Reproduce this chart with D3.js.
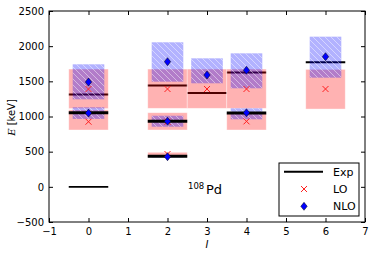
<!DOCTYPE html>
<html>
<head>
<meta charset="utf-8">
<script src="https://cdn.jsdelivr.net/npm/d3@7"></script>
<style>
  html, body { margin: 0; padding: 0; background: #fff; }
  svg { display: block; }
  text { font-family: "DejaVu Sans", sans-serif; }
</style>
</head>
<body>
<svg id="chart" width="374" height="256"></svg>
<script>
// ---- data ----
const groundSpin = [0];
const groundExp = [0];
const spins = [0, 0, 2, 2, 2, 3, 4, 4, 6];
const expE  = [1053, 1314, 434, 931, 1441, 1335, 1048, 1625, 1771];
const loE   = [926, 1391, 466, 926, 1391, 1391, 931, 1391, 1391];
const nloE  = [1049, 1490, 428, 931, 1779, 1590, 1054, 1657, 1850];
const loLow  = [808, 1112, 424, 808, 1116, 1116, 808, 1116, 1106];
const loHigh = [1095, 1675, 491, 1054, 1675, 1675, 1045, 1675, 1670];
const nloLow  = [966, 1244, 418, 855, 1495, 1472, 960, 1401, 1552];
const nloHigh = [1131, 1742, 440, 1011, 2055, 1827, 1116, 1898, 2135];
const xTicks = [-1, 0, 1, 2, 3, 4, 5, 6, 7];
const yTicks = [-500, 0, 500, 1000, 1500, 2000, 2500];
const legendLabels = ["Exp", "LO", "NLO"];

const svg = d3.select("#chart");
const L = 49, R = 365, T = 11, B = 222;
const x = d3.scaleLinear().domain([-1, 7]).range([L, R]);
const y = d3.scaleLinear().domain([-500, 2500]).range([B, T]);
const fmt = d => (d < 0 ? "\u2212" + Math.abs(d) : String(d));

const defs = svg.append("defs");
const pat = defs.append("pattern").attr("id", "hatch").attr("patternUnits", "userSpaceOnUse")
  .attr("width", 6).attr("height", 6);
pat.append("path").attr("d", "M-1,-1 L7,7 M-1,5 L1,7 M5,-1 L7,1")
  .attr("stroke", "rgba(255,255,255,0.45)").attr("stroke-width", 1);

const states = spins.map((s, i) => ({
  I: s, exp: expE[i], lo: loE[i], nlo: nloE[i],
  loL: loLow[i], loH: loHigh[i], nL: nloLow[i], nH: nloHigh[i], idx: i
}));
// lowest levels of each spin drawn above the bands
const topIdx = new Set([0, 2, 3, 6]);

const g = svg.append("g");

// exp lines beneath bands
g.selectAll("line.expUnder").data(states.filter(d => !topIdx.has(d.idx))).enter()
  .append("line")
  .attr("x1", d => x(d.I - 0.5)).attr("x2", d => x(d.I + 0.5))
  .attr("y1", d => y(d.exp)).attr("y2", d => y(d.exp))
  .attr("stroke", "#000").attr("stroke-width", 2);

// LO bands
g.selectAll("rect.lo").data(states).enter().append("rect")
  .attr("x", d => x(d.I - 0.5)).attr("width", x(0.5) - x(-0.5))
  .attr("y", d => y(d.loH)).attr("height", d => y(d.loL) - y(d.loH))
  .attr("fill", "rgba(255,0,0,0.3)")
  .attr("stroke", "rgba(255,255,255,0.5)").attr("stroke-width", 0.8);

// NLO bands
g.selectAll("rect.nlo").data(states).enter().append("rect")
  .attr("x", d => x(d.I - 0.4)).attr("width", x(0.4) - x(-0.4))
  .attr("y", d => y(d.nH)).attr("height", d => y(d.nL) - y(d.nH))
  .attr("fill", "rgba(0,0,255,0.3)");
g.selectAll("rect.nloh").data(states).enter().append("rect")
  .attr("x", d => x(d.I - 0.4)).attr("width", x(0.4) - x(-0.4))
  .attr("y", d => y(d.nH)).attr("height", d => y(d.nL) - y(d.nH))
  .attr("fill", "url(#hatch)");

// exp lines above bands
g.selectAll("line.expTop").data(states.filter(d => topIdx.has(d.idx))).enter()
  .append("line")
  .attr("x1", d => x(d.I - 0.5)).attr("x2", d => x(d.I + 0.5))
  .attr("y1", d => y(d.exp)).attr("y2", d => y(d.exp))
  .attr("stroke", "#000").attr("stroke-width", 3);

// ground state
g.selectAll("line.ground").data(groundSpin).enter().append("line")
  .attr("x1", (d) => x(d - 0.5)).attr("x2", d => x(d + 0.5))
  .attr("y1", (d, i) => y(groundExp[i])).attr("y2", (d, i) => y(groundExp[i]))
  .attr("stroke", "#000").attr("stroke-width", 1.6);

// LO markers
const xs = 3;
function xMark(sel, cx, cy) {
  sel.append("path")
    .attr("d", `M${cx - xs},${cy - xs}L${cx + xs},${cy + xs}M${cx - xs},${cy + xs}L${cx + xs},${cy - xs}`)
    .attr("stroke", "#ff2020").attr("stroke-width", 1).attr("fill", "none");
}
states.forEach(d => xMark(g, x(d.I), y(d.lo)));

// NLO markers
const ds = 4;
function diamond(sel, cx, cy) {
  sel.append("path")
    .attr("d", `M${cx},${cy - ds}L${cx + ds * 0.8},${cy}L${cx},${cy + ds}L${cx - ds * 0.8},${cy}Z`)
    .attr("fill", "#0000ff").attr("stroke", "#000").attr("stroke-width", 0.5);
}
states.forEach(d => diamond(g, x(d.I), y(d.nlo)));

// frame
svg.append("rect").attr("x", L).attr("y", T).attr("width", R - L).attr("height", B - T)
  .attr("fill", "none").attr("stroke", "#000").attr("stroke-width", 1);

// axes (inward ticks)
const axB = svg.append("g").attr("transform", `translate(0,${B})`)
  .call(d3.axisBottom(x).tickValues(xTicks).tickFormat(fmt).tickSizeInner(-4).tickSizeOuter(0).tickPadding(6));
const axT = svg.append("g").attr("transform", `translate(0,${T})`)
  .call(d3.axisTop(x).tickValues(xTicks).tickFormat("").tickSizeInner(-4).tickSizeOuter(0));
const axL = svg.append("g").attr("transform", `translate(${L},0)`)
  .call(d3.axisLeft(y).tickValues(yTicks).tickFormat(fmt).tickSizeInner(-4).tickSizeOuter(0).tickPadding(5));
const axR = svg.append("g").attr("transform", `translate(${R},0)`)
  .call(d3.axisRight(y).tickValues(yTicks).tickFormat("").tickSizeInner(-4).tickSizeOuter(0));
[axB, axT, axL, axR].forEach(a => {
  a.select(".domain").remove();
  a.selectAll("text").attr("font-size", 10).attr("fill", "#000").attr("font-family", "DejaVu Sans");
  a.selectAll("line").attr("stroke", "#000");
});

// axis labels
svg.append("text").attr("x", x(3)).attr("y", 248).attr("text-anchor", "middle")
  .attr("font-family", "DejaVu Serif").attr("font-style", "italic").attr("font-size", 10).text("I");
const yl = svg.append("text").attr("transform", `translate(15,${(T + B) / 2 + 1}) rotate(-90)`)
  .attr("text-anchor", "middle").attr("font-size", 10);
yl.append("tspan").attr("font-family", "DejaVu Serif").attr("font-style", "italic").text("E");
yl.append("tspan").text(" [keV]");

// nucleus label
svg.append("text").attr("x", 188).attr("y", 189).attr("font-family", "DejaVu Serif").attr("font-size", 8.5).text("108");
svg.append("text").attr("x", 206).attr("y", 193.5).attr("font-size", 13).text("Pd");

// legend
const lg = svg.append("g");
lg.append("rect").attr("x", 279).attr("y", 163).attr("width", 80).attr("height", 53)
  .attr("fill", "#fff").attr("stroke", "#000").attr("stroke-width", 1);
const ly = [171.7, 189, 206.3];
lg.append("line").attr("x1", 284).attr("x2", 323).attr("y1", ly[0]).attr("y2", ly[0])
  .attr("stroke", "#000").attr("stroke-width", 2);
xMark(lg, 304, ly[1]);
diamond(lg, 304, ly[2]);
lg.selectAll("text.lt").data(legendLabels).enter().append("text")
  .attr("x", 333).attr("y", (d, i) => ly[i] + 4).attr("font-size", 11).text(d => d);
</script>
</body>
</html>
